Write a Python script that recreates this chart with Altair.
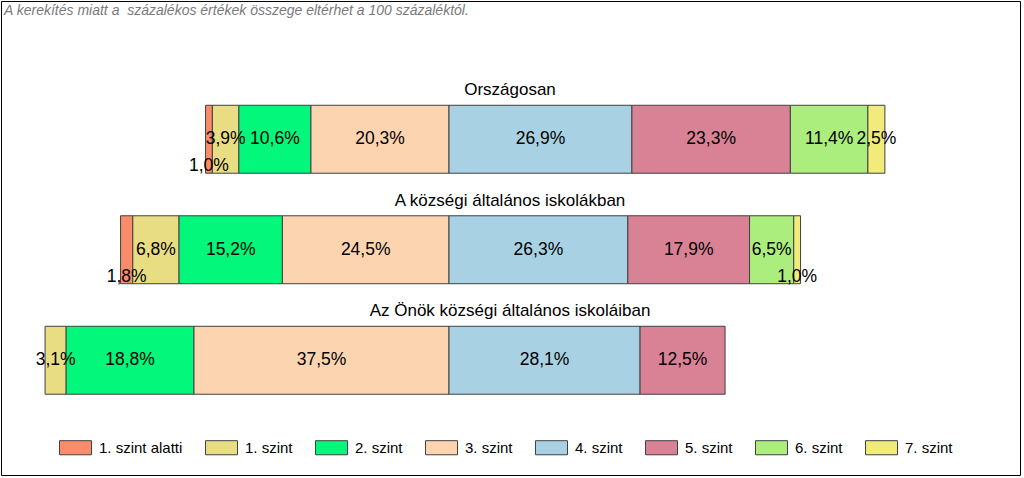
import altair as alt
import pandas as pd

rows = ["Országosan", "A községi általános iskolákban", "Az Önök községi általános iskoláiban"]
levels = ["1. szint alatti", "1. szint", "2. szint", "3. szint", "4. szint", "5. szint", "6. szint", "7. szint"]
colors = ["#F98D6B", "#E9DD84", "#03F77A", "#FDD4B0", "#A8D2E3", "#D98296", "#ABEE7D", "#F1EB7A"]
vals_orszagos = [1.0, 3.9, 10.6, 20.3, 26.9, 23.3, 11.4, 2.5]
vals_kozsegi = [1.8, 6.8, 15.2, 24.5, 26.3, 17.9, 6.5, 1.0]
vals_onok = [0.0, 3.1, 18.8, 37.5, 28.1, 12.5, 0.0, 0.0]
note = "A kerekítés miatt a\u00a0 százalékos értékek összege eltérhet a 100 százaléktól."

recs = []
for r, vals in zip(rows, [vals_orszagos, vals_kozsegi, vals_onok]):
    for i, (lev, v) in enumerate(zip(levels, vals)):
        recs.append({"row": r, "level": lev, "idx": i, "value": v})
df = pd.DataFrame(recs)

FONT = "Liberation Sans"

x_scale = alt.Scale(domain=[-65.882, 83.971], nice=False, zero=False)
y_scale = alt.Scale(domain=rows, range=[83, 414.5], paddingInner=0.385, paddingOuter=0.1925)

base = alt.Chart(df).transform_filter("datum.value > 0").transform_calculate(
    signed="datum.idx < 4 ? -datum.value : datum.value",
    ord="datum.idx < 4 ? 3 - datum.idx : datum.idx",
).transform_stack(
    stack="signed", groupby=["row"], sort=[alt.SortField("ord")], as_=["x0", "x1"]
).transform_calculate(
    mid="(datum.x0 + datum.x1) / 2",
    lab="replace(format(datum.value, '.1f'), '.', ',') + '%'",
)

bars = base.mark_bar(stroke="#404040", strokeWidth=1).encode(
    x=alt.X("x0:Q", scale=x_scale, axis=None),
    x2="x1:Q",
    y=alt.Y("row:N", scale=y_scale, axis=None),
    color=alt.Color(
        "level:N",
        scale=alt.Scale(domain=levels, range=colors),
        legend=alt.Legend(
            title=None,
            orient="none",
            direction="horizontal",
            columns=8,
            legendX=58,
            legendY=430,
            symbolType="M-1,-0.44L1,-0.44L1,0.44L-1,0.44Z",
            symbolSize=1024,
            symbolStrokeColor="#404040",
            symbolStrokeWidth=1,
            symbolOpacity=1,
            labelFont=FONT,
            labelFontSize=15,
            labelColor="#000000",
            labelOffset=7,
            columnPadding=20,
            padding=0,
            labelLimit=300,
        ),
    ),
)

labels_main = base.transform_filter("datum.value >= 2").mark_text(
    font=FONT, fontSize=17.5, color="#000000", baseline="middle", align="center"
).encode(
    x=alt.X("mid:Q", scale=x_scale),
    y=alt.Y("row:N", scale=y_scale),
    text="lab:N",
)

labels_small = base.transform_filter("datum.value < 2").mark_text(
    font=FONT, fontSize=17.5, color="#000000", baseline="middle", align="center", dy=27
).encode(
    x=alt.X("mid:Q", scale=x_scale),
    y=alt.Y("row:N", scale=y_scale),
    text="lab:N",
)

titles_df = pd.DataFrame({"row": rows})
titles = alt.Chart(titles_df).mark_text(
    font=FONT, fontSize=17, color="#000000", baseline="middle", align="center", dy=-49
).encode(
    x=alt.value(509),
    y=alt.Y("row:N", scale=y_scale),
    text="row:N",
)

note_df = pd.DataFrame({"t": [note]})
note_mark = alt.Chart(note_df).mark_text(
    font=FONT, fontSize=14, fontStyle="italic", color="#7A7A7A", align="left", baseline="middle"
).encode(
    x=alt.value(3),
    y=alt.value(10),
    text="t:N",
)

chart = alt.layer(bars, labels_main, labels_small, titles, note_mark).properties(
    width=1019,
    height=474,
    padding={"left": 1, "top": 1, "right": 4, "bottom": 3},
    autosize=alt.AutoSizeParams(type="none"),
    background="#FFFFFF",
).configure_view(stroke="#000000", strokeWidth=1)

chart.save("out.html", embed_options={"renderer": "svg", "actions": False})
